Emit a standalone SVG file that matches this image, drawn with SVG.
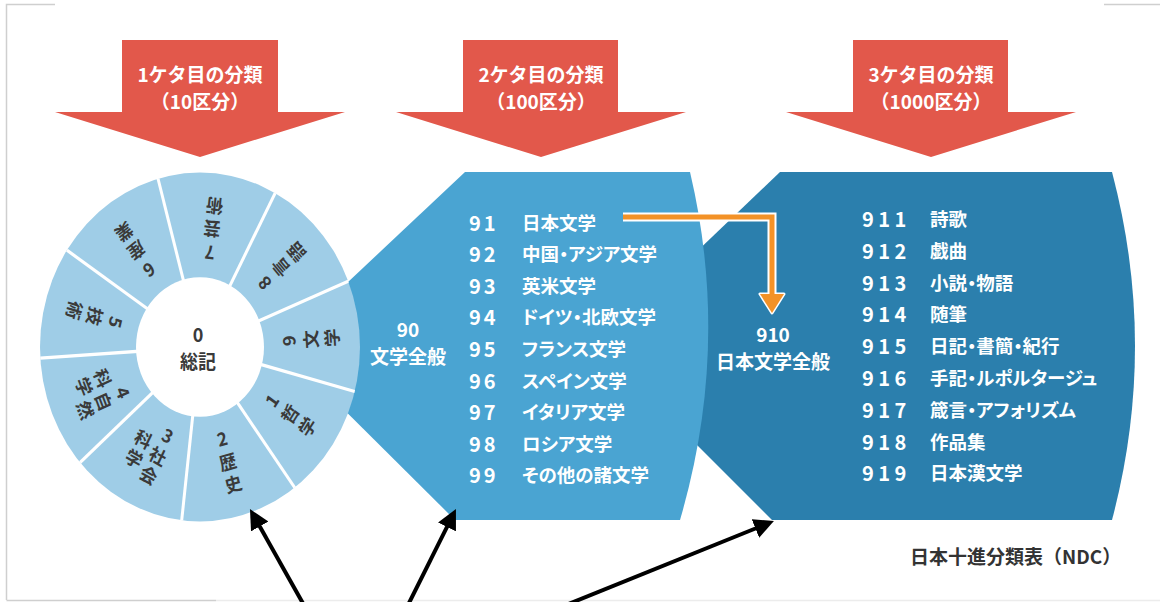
<svg xmlns="http://www.w3.org/2000/svg" width="1160" height="602" viewBox="0 0 1160 602">
<style>
text{font-family:"Noto Sans CJK JP","Noto Sans CJK SC",sans-serif;font-weight:bold}
.hdr{font-size:19px;fill:#fff;text-anchor:middle}
.wl{font-size:17px;fill:#3a3a3a;text-anchor:middle;dominant-baseline:central}
.ctr{font-size:18px;fill:#3a3a3a;text-anchor:middle;dominant-baseline:central}
.num{font-size:20px;fill:#fff;dominant-baseline:central;letter-spacing:3px}
.num3{font-size:20px;fill:#fff;dominant-baseline:central;letter-spacing:4.5px}
.nm{font-size:18.5px;fill:#fff;dominant-baseline:central;font-feature-settings:"palt" 1}
.ttl{font-size:19px;fill:#fff;text-anchor:middle;dominant-baseline:central}
.red{fill:#e2584b}
.sep{stroke:#fff;stroke-width:3}
.frame{stroke:#cfcfcf;stroke-width:1.5;fill:none}
</style>
<defs>
<marker id="blk" viewBox="0 0 10 10" refX="2" refY="5" markerWidth="5" markerHeight="5" orient="auto">
<path d="M0,0 L10,5 L0,10 Z" fill="#000"/>
</marker>
</defs>
<rect width="1160" height="602" fill="#fff"/>
<g id="frame">
<path class="frame" d="M6.5,600 V4.5 H55"/>
<path class="frame" d="M1104,4.5 H1160"/>
<path class="frame" d="M6.5,600.5 H216"/>
<path d="M216,600.5 H1160" stroke="#ececec" stroke-width="1.5"/>
</g>

<g id="header-1">
<path class="red" d="M122,40 H278 V112 H345 L200,157 L55,112 H122 Z"/>
<text class="hdr" x="200" y="82">1ケタ目の分類</text>
<text class="hdr" x="200" y="109">（10区分）</text>
</g>
<g id="header-2">
<path class="red" d="M463,40 H618 V112 H686 L541,157 L396,112 H463 Z"/>
<text class="hdr" x="541" y="82">2ケタ目の分類</text>
<text class="hdr" x="541" y="109">（100区分）</text>
</g>
<g id="header-3">
<path class="red" d="M853,40 H1008 V112 H1076 L931,157 L786,112 H853 Z"/>
<text class="hdr" x="931" y="82">3ケタ目の分類</text>
<text class="hdr" x="931" y="109">（1000区分）</text>
</g>

<g id="panel-3">
<path d="M780,172 L1112,172 Q1158,346 1112,520 L772,520 L598,346 Z" fill="#2b7fad"/>
<text class="ttl" x="773" y="333">910</text>
<text class="ttl" x="773" y="360">日本文学全般</text>
<text class="num3" x="862" y="218">911</text><text class="nm" x="930" y="218">詩歌</text>
<text class="num3" x="862" y="250">912</text><text class="nm" x="930" y="250">戯曲</text>
<text class="num3" x="862" y="282">913</text><text class="nm" x="930" y="282">小説・物語</text>
<text class="num3" x="862" y="313">914</text><text class="nm" x="930" y="313">随筆</text>
<text class="num3" x="862" y="345">915</text><text class="nm" x="930" y="345">日記・書簡・紀行</text>
<text class="num3" x="862" y="377">916</text><text class="nm" x="930" y="377">手記・ルポルタージュ</text>
<text class="num3" x="862" y="409">917</text><text class="nm" x="930" y="409">箴言・アフォリズム</text>
<text class="num3" x="862" y="441">918</text><text class="nm" x="930" y="441">作品集</text>
<text class="num3" x="862" y="472">919</text><text class="nm" x="930" y="472">日本漢文学</text>
</g>

<g id="panel-2">
<path d="M465,172 L690,172 Q731,346 680,520 L455,520 L280,346 Z" fill="#4aa4d2"/>
<text class="ttl" x="408" y="328">90</text>
<text class="ttl" x="408" y="355">文学全般</text>
<text class="num" x="469" y="222">91</text><text class="nm" x="522" y="222">日本文学</text>
<text class="num" x="469" y="253">92</text><text class="nm" x="522" y="253">中国・アジア文学</text>
<text class="num" x="469" y="285">93</text><text class="nm" x="522" y="285">英米文学</text>
<text class="num" x="469" y="316">94</text><text class="nm" x="522" y="316">ドイツ・北欧文学</text>
<text class="num" x="469" y="348">95</text><text class="nm" x="522" y="348">フランス文学</text>
<text class="num" x="469" y="380">96</text><text class="nm" x="522" y="380">スペイン文学</text>
<text class="num" x="469" y="411">97</text><text class="nm" x="522" y="411">イタリア文学</text>
<text class="num" x="469" y="443">98</text><text class="nm" x="522" y="443">ロシア文学</text>
<text class="num" x="469" y="474">99</text><text class="nm" x="522" y="474">その他の諸文学</text>
</g>

<g id="wheel" transform="translate(200,347) scale(1,1.09)">
<circle r="160" fill="#9fcde7"/>
<g class="sep">
<line x1="0" y1="0" x2="-42.0" y2="-154.5"/>
<line x1="0" y1="0" x2="75.2" y2="-141.3"/>
<line x1="0" y1="0" x2="148.2" y2="-60.4"/>
<line x1="0" y1="0" x2="154.7" y2="40.8"/>
<line x1="0" y1="0" x2="94.7" y2="129.0"/>
<line x1="0" y1="0" x2="-18.3" y2="158.9"/>
<line x1="0" y1="0" x2="-119.9" y2="106.0"/>
<line x1="0" y1="0" x2="-159.7" y2="10.3"/>
<line x1="0" y1="0" x2="-133.1" y2="-88.8"/>
</g>
<circle r="64" fill="#fff"/>
<text class="ctr" x="-2" y="-13">0</text>
<text class="ctr" x="-2" y="12">総記</text>
<g transform="rotate(-173.6)"><text class="wl" y="86">7</text><text class="wl" y="108">芸</text><text class="wl" y="129">術</text></g>
<g transform="rotate(-132.1)"><text class="wl" y="86">8</text><text class="wl" y="108">言</text><text class="wl" y="129">語</text></g>
<g transform="rotate(-93.7)"><text class="wl" y="88">9</text><text class="wl" y="110">文</text><text class="wl" y="131">学</text></g>
<g transform="rotate(-55.7)"><text class="wl" y="86">1</text><text class="wl" y="108">哲</text><text class="wl" y="129">学</text></g>
<g transform="rotate(-14.8)"><text class="wl" y="86">2</text><text class="wl" y="108">歴</text><text class="wl" y="129">史</text></g>
<g transform="rotate(27.6)"><text class="wl" x="9" y="86">3</text><text class="wl" x="9" y="107">社</text><text class="wl" x="9" y="127">会</text><text class="wl" x="-11" y="100">科</text><text class="wl" x="-11" y="120">学</text></g>
<g transform="rotate(67.4)"><text class="wl" x="9" y="86">4</text><text class="wl" x="9" y="107">自</text><text class="wl" x="9" y="127">然</text><text class="wl" x="-11" y="100">科</text><text class="wl" x="-11" y="120">学</text></g>
<g transform="rotate(105)"><text class="wl" y="86">5</text><text class="wl" y="108">技</text><text class="wl" y="129">術</text></g>
<g transform="rotate(144.3)"><text class="wl" y="86">6</text><text class="wl" y="108">産</text><text class="wl" y="129">業</text></g>
</g>

<g id="caption">
<text x="910" y="564" font-size="19" fill="#333">日本十進分類表（NDC）</text>
</g>

<g id="connectors">
<path d="M623,217 H772 V296" fill="none" stroke="#fff" stroke-width="9"/>
<path d="M760,294 H784 L772,313 Z" fill="#fff" stroke="#fff" stroke-width="3" stroke-linejoin="round"/>
<path d="M623,217 H772 V296" fill="none" stroke="#f39227" stroke-width="5"/>
<path d="M760,294 H784 L772,313 Z" fill="#f39227"/>
<line x1="305" y1="607" x2="257.8" y2="523" stroke="#000" stroke-width="4" marker-end="url(#blk)"/>
<line x1="407" y1="607" x2="448.8" y2="523.3" stroke="#000" stroke-width="4" marker-end="url(#blk)"/>
<line x1="566" y1="605" x2="759.1" y2="527" stroke="#000" stroke-width="4" marker-end="url(#blk)"/>
</g>
</svg>
